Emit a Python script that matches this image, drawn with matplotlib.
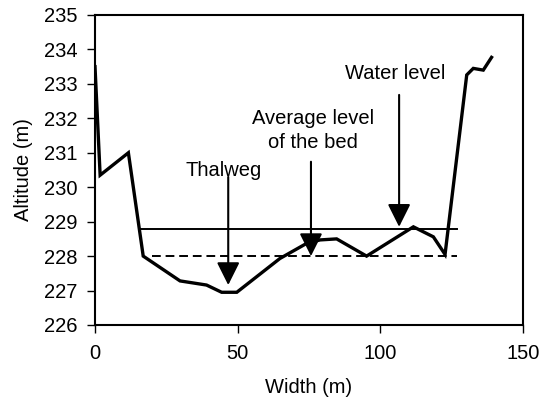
import matplotlib
matplotlib.use("Agg")
import matplotlib.pyplot as plt

plt.rcParams['font.family'] = ['Liberation Sans', 'DejaVu Sans']

# Cross-section profile of the river channel
width_m = [0, 1.8, 11.7, 16.9, 29.8, 39.1, 44.4, 49.7, 64.8, 74.2, 78.9, 84.7,
           95.2, 111.6, 118.6, 122.7, 130.3, 132.6, 136.1, 139.0]
altitude_m = [233.5, 230.35, 231.0, 228.0, 227.28, 227.16, 226.95, 226.95, 227.93,
              228.37, 228.47, 228.5, 228.0, 228.85, 228.56, 228.05, 233.26, 233.45,
              233.4, 233.77]

water_level = 228.8
water_extent = [15.8, 126.8]
bed_level = 228.0
bed_extent = [19.9, 126.8]

# Annotations: label, text position, arrow start, arrow tip
labels = ["Thalweg", "Average level\nof the bed", "Water level"]
label_xy = [(45.0, 230.5), (76.5, 231.65), (105.2, 233.3)]
arrow_x = [46.7, 75.7, 106.6]
arrow_top = [230.3, 230.74, 232.68]
arrow_tip = [227.16, 228.0, 228.85]

x_ticks = [0, 50, 100, 150]
y_ticks = list(range(226, 236))

fig = plt.figure(figsize=(5.41, 4.0), dpi=100)
ax = fig.add_axes([0.1756, 0.1875, 0.791, 0.775])

ax.plot(width_m, altitude_m, color='black', lw=2.4, solid_joinstyle='miter', zorder=3)
ax.plot(water_extent, [water_level] * 2, color='black', lw=1.4, zorder=2)
ax.plot(bed_extent, [bed_level] * 2, color='black', lw=1.4, ls=(0, (4.5, 2.5)), zorder=2)

for text, (tx, ty), ax_x, top, tip in zip(labels, label_xy, arrow_x, arrow_top, arrow_tip):
    ax.text(tx, ty, text, ha='center', va='center', fontsize=14.5, linespacing=1.33)
    ax.annotate('', xy=(ax_x, tip), xytext=(ax_x, top),
                arrowprops=dict(arrowstyle='-|>,head_length=1.4,head_width=0.7',
                                color='black', lw=1.5, shrinkA=0, shrinkB=0),
                zorder=4)

ax.set_xlim(0, 150)
ax.set_ylim(226, 235)
ax.set_xticks(x_ticks)
ax.set_yticks(y_ticks)
ax.tick_params(direction='out', length=5.5, width=1.0, labelsize=14.5)
ax.tick_params(axis='y', pad=7)
ax.tick_params(axis='x', pad=8)
for s in ax.spines.values():
    s.set_linewidth(1.5)

ax.set_xlabel('Width (m)', fontsize=14.5, labelpad=11)
ax.set_ylabel('Altitude (m)', fontsize=14.5, labelpad=8)

fig.savefig('out.png', dpi=100)
